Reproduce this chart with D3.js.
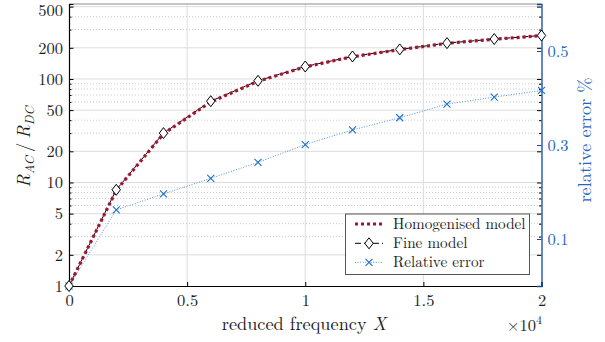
<!DOCTYPE html>
<html><head><meta charset="utf-8">
<script src="https://cdn.jsdelivr.net/npm/d3@7"></script>
<style>body{margin:0;background:#fff}svg{display:block}</style>
</head><body>
<svg id="c" width="605" height="342"></svg>
<script>
const xValues = [0, 2000, 4000, 6000, 8000, 10000, 12000, 14000, 16000, 18000, 20000];
const fineModel = [1, 8.5, 30, 61, 96, 132, 165, 193, 222, 243, 263];
const homogenised = [1, 8.4, 29.6, 60, 95, 131, 164, 192, 221, 242, 262];
const relativeError = [0, 0.162, 0.196, 0.229, 0.263, 0.301, 0.332, 0.358, 0.387, 0.402, 0.416];
const xTicks = [0, 5000, 10000, 15000, 20000];
const xTickLabels = ["0", "0.5", "1", "1.5", "2"];
const yLeftTicks = [1, 2, 5, 10, 20, 50, 100, 200, 500];
const yLeftMinor = [3, 4, 6, 7, 8, 9, 30, 40, 60, 70, 80, 90, 300, 400];
const yRightTicks = [0.1, 0.3, 0.5];
const legendLabels = ["Homogenised model", "Fine model", "Relative error"];

const FONT = '"Latin Modern Roman", "Liberation Serif", serif';
const TXT = "#1c1c1c";
const svg = d3.select("#c");
const L = 69, R = 541.5, T = 4, B = 286;
const x = d3.scaleLinear().domain([0, 20000]).range([L, R]);
const yL = d3.scaleLog().domain([1, 530]).range([B, T]);
const yR = d3.scaleLinear().domain([0, 0.6]).range([B, T]);
const blueAxis = "#1249a3", blueText = "#2467c2", blueMark = "#1f6fcc";

// grids
const g = svg.append("g");
g.selectAll(".mg").data(yLeftMinor).join("line")
  .attr("x1", L).attr("x2", R).attr("y1", d => yL(d)).attr("y2", d => yL(d))
  .attr("stroke", "#bdbdbd").attr("stroke-width", 0.8).attr("stroke-dasharray", "1,2");
g.selectAll(".Mg").data(yLeftTicks.slice(1)).join("line")
  .attr("x1", L).attr("x2", R).attr("y1", d => yL(d)).attr("y2", d => yL(d))
  .attr("stroke", "#dcdcdc").attr("stroke-width", 1);
g.selectAll(".xg").data(xTicks.slice(1, -1)).join("line")
  .attr("x1", d => x(d)).attr("x2", d => x(d)).attr("y1", T).attr("y2", B)
  .attr("stroke", "#dcdcdc").attr("stroke-width", 1);

svg.append("line").attr("x1", L).attr("x2", R).attr("y1", T).attr("y2", T).attr("stroke", "#8c8c8c").attr("stroke-width", 1);

// left axis
const la = svg.append("g").attr("transform", `translate(${L},0)`)
  .call(d3.axisLeft(yL).tickValues(yLeftTicks).tickFormat(d3.format("d")).tickSize(-4.5).tickPadding(6));
la.select(".domain").attr("stroke", "#000").attr("stroke-width", 1.2);
la.selectAll(".tick line").attr("stroke", "#000");
la.selectAll("text").attr("font-size", 16.5).attr("fill", TXT).style("font-family", FONT);
la.selectAll(".tick").filter(d => d === 500).select("text").attr("dy", "0.54em");
const lm = svg.append("g").attr("transform", `translate(${L},0)`)
  .call(d3.axisLeft(yL).tickValues(yLeftMinor).tickFormat("").tickSize(-2.5));
lm.select(".domain").remove();
const mm = svg.append("g").attr("transform", `translate(${R},0)`)
  .call(d3.axisRight(yL).tickValues(yLeftTicks).tickFormat("").tickSize(-4.5));
mm.select(".domain").remove();
mm.selectAll(".tick line").attr("stroke", "#000");
const mn = svg.append("g").attr("transform", `translate(${R},0)`)
  .call(d3.axisRight(yL).tickValues(yLeftMinor).tickFormat("").tickSize(-2.5));
mn.select(".domain").remove();

// bottom axis
const ba = svg.append("g").attr("transform", `translate(0,${B})`)
  .call(d3.axisBottom(x).tickValues(xTicks).tickFormat((d, i) => xTickLabels[i]).tickSize(-4).tickPadding(8));
ba.select(".domain").attr("stroke", "#000").attr("stroke-width", 1.2);
ba.selectAll("text").attr("font-size", 16.5).attr("fill", TXT).style("font-family", FONT);

// right axis
const ra = svg.append("g").attr("transform", `translate(${R},0)`)
  .call(d3.axisRight(yR).tickValues(yRightTicks).tickFormat(d3.format(".1f")).tickSize(-4.5).tickPadding(6));
ra.select(".domain").attr("stroke", blueAxis).attr("stroke-width", 1.3);
ra.selectAll(".tick line").attr("stroke", blueAxis);
ra.selectAll("text").attr("font-size", 16.5).attr("fill", blueText).style("font-family", FONT);

// data lines
const pts = xValues.map((v, i) => ({x: v, f: fineModel[i], h: homogenised[i], e: relativeError[i]}));
svg.append("path").datum(pts)
  .attr("d", d3.line().x(d => x(d.x)).y(d => yR(d.e)))
  .attr("fill", "none").attr("stroke", "#3b86d6").attr("stroke-width", 0.9).attr("stroke-dasharray", "1,1.6");
svg.append("path").datum(pts)
  .attr("d", d3.line().x(d => x(d.x)).y(d => yL(d.f)))
  .attr("fill", "none").attr("stroke", "#000").attr("stroke-width", 1).attr("stroke-dasharray", "6,3");
svg.append("path").datum(pts)
  .attr("d", d3.line().x(d => x(d.x)).y(d => yL(d.h)))
  .attr("fill", "none").attr("stroke", "#a2142f").attr("stroke-width", 3.2).attr("stroke-dasharray", "3,3");

const diamond = (cx, cy) => `M${cx},${cy-5.5}L${cx+4.2},${cy}L${cx},${cy+5.5}L${cx-4.2},${cy}Z`;
const cross = (cx, cy) => `M${cx-3.5},${cy-3.5}L${cx+3.5},${cy+3.5}M${cx-3.5},${cy+3.5}L${cx+3.5},${cy-3.5}`;
svg.selectAll(".cr").data(pts).join("path")
  .attr("d", d => cross(x(d.x), yR(d.e))).attr("stroke", blueMark).attr("stroke-width", 1.1).attr("fill", "none");
svg.selectAll(".dm").data(pts).join("path")
  .attr("d", d => diamond(x(d.x), yL(d.f))).attr("stroke", "#000").attr("stroke-width", 1).attr("fill", "#fff");

// legend
const lg = svg.append("g");
lg.append("rect").attr("x", 345.5).attr("y", 214).attr("width", 184).attr("height", 60.5)
  .attr("fill", "#fff").attr("stroke", "#555").attr("stroke-width", 1);
const ly = [224, 243.3, 262.3];
lg.append("line").attr("x1", 355).attr("x2", 383).attr("y1", ly[0]).attr("y2", ly[0])
  .attr("stroke", "#a2142f").attr("stroke-width", 3.2).attr("stroke-dasharray", "3,3");
lg.append("line").attr("x1", 355).attr("x2", 383).attr("y1", ly[1]).attr("y2", ly[1])
  .attr("stroke", "#000").attr("stroke-width", 1).attr("stroke-dasharray", "6,3");
lg.append("path").attr("d", diamond(369, ly[1])).attr("stroke", "#000").attr("fill", "#fff");
lg.append("line").attr("x1", 355).attr("x2", 383).attr("y1", ly[2]).attr("y2", ly[2])
  .attr("stroke", "#3b86d6").attr("stroke-width", 0.9).attr("stroke-dasharray", "1,1.6");
lg.append("path").attr("d", cross(369, ly[2])).attr("stroke", blueMark).attr("stroke-width", 1.1);
lg.selectAll(".lt").data(legendLabels).join("text")
  .attr("x", 393).attr("y", (d, i) => ly[i] + 5).attr("font-size", 15.2).attr("fill", TXT)
  .style("font-family", FONT).text(d => d);

// axis labels
const xl = svg.append("text").attr("x", 304).attr("y", 330).attr("text-anchor", "middle")
  .attr("font-size", 18.3).attr("fill", TXT).style("font-family", FONT);
xl.append("tspan").text("reduced frequency ");
xl.append("tspan").attr("font-style", "italic").text("X");

const xe = svg.append("text").attr("x", 542).attr("y", 331).attr("text-anchor", "end")
  .attr("font-size", 16.5).attr("fill", TXT).style("font-family", FONT);
xe.append("tspan").text("×10");
xe.append("tspan").attr("dy", -7).attr("font-size", 12).text("4");

const yl = svg.append("text").attr("transform", "translate(30,147) rotate(-90)").attr("text-anchor", "middle")
  .attr("font-size", 18.5).attr("fill", TXT).style("font-family", FONT);
yl.append("tspan").attr("font-style", "italic").text("R");
yl.append("tspan").attr("font-style", "italic").attr("font-size", 13).attr("dy", 3.5).text("AC");
yl.append("tspan").attr("dy", -3.5).attr("dx", 4).text("/");
yl.append("tspan").attr("dx", 4).attr("font-style", "italic").text("R");
yl.append("tspan").attr("font-style", "italic").attr("font-size", 13).attr("dy", 3.5).text("DC");

svg.append("text").attr("transform", "translate(591,140) rotate(-90)").attr("text-anchor", "middle")
  .attr("font-size", 18.3).attr("fill", blueText).style("font-family", FONT).text("relative error %");
</script>
</body></html>
